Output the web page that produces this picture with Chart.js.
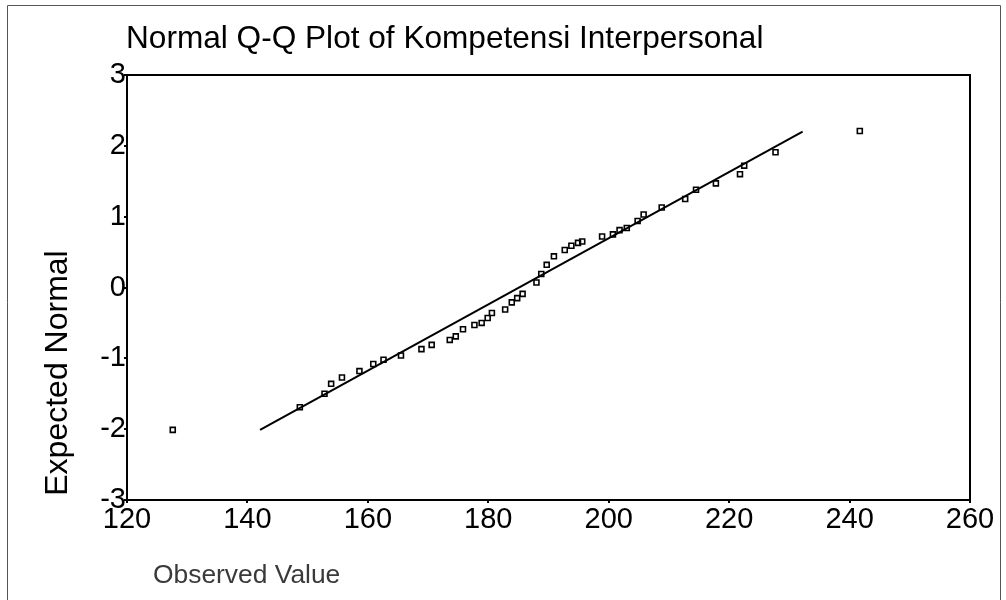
<!DOCTYPE html>
<html>
<head>
<meta charset="utf-8">
<title>Normal Q-Q Plot of Kompetensi Interpersonal</title>
<script src="https://cdn.jsdelivr.net/npm/chart.js@4.4.1/dist/chart.umd.min.js"></script>
<style>
  html, body { margin: 0; padding: 0; background: #fff; }
  #qq { display: block; }
</style>
</head>
<body>
<canvas id="qq" width="1006" height="600"></canvas>
<script>
// Values.
const observedValues = [
    127.6, 148.7, 152.8, 153.9, 155.7, 158.6, 160.9, 162.6, 165.5, 168.9,
    170.6, 173.6, 174.6, 175.8, 177.7, 178.9, 179.9, 180.6, 182.8, 183.9,
    184.8, 185.7, 188.0, 188.8, 189.7, 190.9, 192.7, 193.8, 194.9, 195.6,
    198.9, 200.7, 201.8, 203.0, 204.8, 205.8, 208.8, 212.7, 214.5, 217.8,
    221.8, 222.5, 227.7, 241.7
];
const expectedNormal = [
    -2.01, -1.69, -1.50, -1.36, -1.27, -1.18, -1.08, -1.02, -0.96, -0.87,
    -0.81, -0.74, -0.69, -0.59, -0.53, -0.50, -0.43, -0.36, -0.31, -0.21,
    -0.15, -0.09, 0.07, 0.19, 0.32, 0.44, 0.53, 0.59, 0.63, 0.65,
    0.72, 0.75, 0.81, 0.84, 0.94, 1.03, 1.13, 1.25, 1.38, 1.47,
    1.60, 1.72, 1.91, 2.21
];
// Reference line end points.
const lineX = [142.1, 232.2];
const lineY = [-2.01, 2.20];

const xTicks = [120, 140, 160, 180, 200, 220, 240, 260];
const yTicks = [-3, -2, -1, 0, 1, 2, 3];

const titleText = 'Normal Q-Q Plot of Kompetensi Interpersonal';
const xTitle = 'Observed Value';
const yTitle = 'Expected Normal';

const narrow = "'Liberation Sans Narrow', 'Liberation Sans', Arial, sans-serif";
const regular = "'Liberation Sans', Arial, sans-serif";

// chart area box wanted: left 127, right 970, top 75, bottom 500
const AREA = { left: 127, right: 970, top: 75, bottom: 500 };

const framePlugin = {
    id: 'frame',
    afterDraw(chart) {
        const ctx = chart.ctx;
        const a = chart.chartArea;
        ctx.save();

        // outer scan frame
        ctx.strokeStyle = '#555';
        ctx.lineWidth = 1;
        ctx.beginPath();
        ctx.moveTo(7.5, 600);
        ctx.lineTo(7.5, 5.5);
        ctx.lineTo(1000.5, 5.5);
        ctx.lineTo(1000.5, 600);
        ctx.stroke();

        // plot box
        ctx.strokeStyle = '#000';
        ctx.lineWidth = 2;
        ctx.strokeRect(a.left, a.top, a.right - a.left, a.bottom - a.top);

        // title
        ctx.fillStyle = '#000';
        ctx.font = '31.6px ' + regular;
        ctx.textAlign = 'left';
        ctx.textBaseline = 'middle';
        ctx.fillText(titleText, 126, 39);

        // x axis title
        ctx.fillStyle = '#3a3a3a';
        ctx.font = '26.4px ' + regular;
        ctx.fillText(xTitle, 153, 576);

        // y axis title, rotated
        ctx.fillStyle = '#000';
        ctx.font = '32px ' + regular;
        ctx.translate(58, 373);
        ctx.rotate(-Math.PI / 2);
        ctx.textAlign = 'center';
        ctx.fillText(yTitle, 0, 0);

        ctx.restore();
    }
};

const ctx = document.getElementById('qq').getContext('2d');

new Chart(ctx, {
    type: 'scatter',
    data: {
        datasets: [
            {
                label: 'line',
                data: lineX.map((x, i) => ({ x: x, y: lineY[i] })),
                showLine: true,
                borderColor: '#000',
                borderWidth: 2,
                pointRadius: 0,
                fill: false,
                order: 2
            },
            {
                label: 'Observed',
                data: observedValues.map((x, i) => ({ x: x, y: expectedNormal[i] })),
                pointStyle: 'rect',
                pointRadius: 3.5,
                borderColor: '#000',
                borderWidth: 1.6,
                backgroundColor: 'rgba(0,0,0,0)',
                order: 1
            }
        ]
    },
    options: {
        responsive: false,
        animation: false,
        devicePixelRatio: 1,
        layout: {
            padding: { left: 0, right: 1006 - AREA.right, top: AREA.top, bottom: 0 }
        },
        plugins: {
            legend: { display: false },
            tooltip: { enabled: false },
            title: { display: false }
        },
        scales: {
            x: {
                type: 'linear',
                min: 120,
                max: 260,
                afterBuildTicks: (axis) => { axis.ticks = xTicks.map(v => ({ value: v })); },
                afterFit: (axis) => { axis.height = 600 - AREA.bottom; },
                grid: { drawOnChartArea: false, drawTicks: true, tickLength: 3, color: '#000', lineWidth: 2 },
                border: { display: true, color: '#000', width: 2 },
                ticks: {
                    color: '#000',
                    padding: 0,
                    maxRotation: 0,
                    autoSkip: false,
                    font: { family: narrow, size: 29 }
                }
            },
            y: {
                type: 'linear',
                min: -3,
                max: 3,
                afterBuildTicks: (axis) => { axis.ticks = yTicks.map(v => ({ value: v })); },
                afterFit: (axis) => { axis.width = AREA.left; },
                grid: { drawOnChartArea: false, drawTicks: true, tickLength: 3, color: '#000', lineWidth: 2 },
                border: { display: true, color: '#000', width: 2 },
                ticks: {
                    color: '#000',
                    padding: -2,
                    autoSkip: false,
                    font: { family: narrow, size: 29 },
                    callback: (v) => String(v)
                }
            }
        }
    },
    plugins: [framePlugin]
});
</script>
</body>
</html>
